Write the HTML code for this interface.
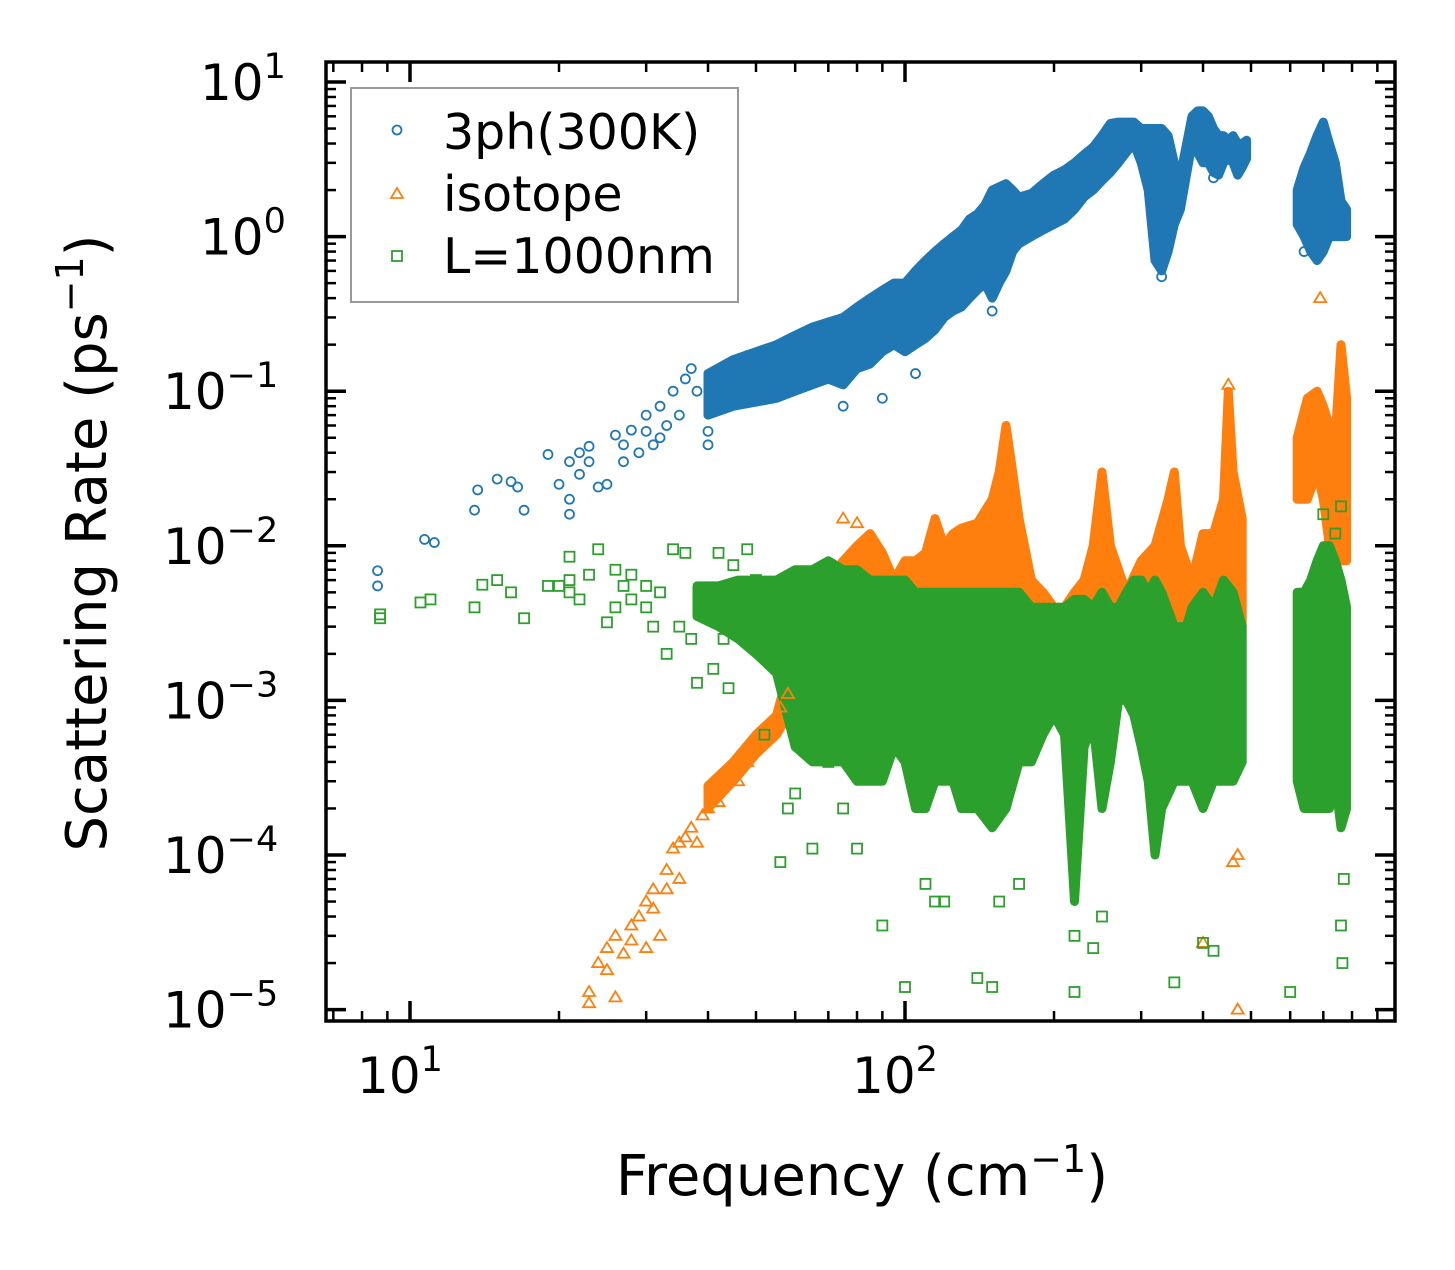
<!DOCTYPE html>
<html><head><meta charset="utf-8"><style>
html,body{margin:0;padding:0;background:#fff}
svg{display:block;font-family:"DejaVu Sans","Liberation Sans",sans-serif}
</style></head><body>
<svg id="chart" width="1455" height="1270" viewBox="0 0 1455 1270" xmlns="http://www.w3.org/2000/svg">
<g id="bands"></g>
<g id="pts"></g>
<g id="axes"></g>
<g>
<rect x="351" y="88" width="387" height="214" fill="#fff" fill-opacity="0.8" stroke="#999" stroke-width="2"/>
<circle cx="397" cy="130" r="4.5" fill="none" stroke="#1f77b4" stroke-width="1.8"/>
<text x="443" y="149" font-size="49">3ph(300K)</text>
<path d="M391,198 L403,198 L397,188 Z" fill="none" stroke="#ff7f0e" stroke-width="1.8"/>
<text x="443" y="211" font-size="49">isotope</text>
<rect x="392" y="251" width="10" height="10" fill="none" stroke="#2ca02c" stroke-width="1.8"/>
<text x="443" y="273" font-size="49">L=1000nm</text>
</g>
<text x="862" y="1195" font-size="56" text-anchor="middle">Frequency (cm<tspan dy="-23" font-size="38">−1</tspan><tspan dy="23">)</tspan></text>
<text transform="translate(106,543) rotate(-90)" font-size="56" text-anchor="middle">Scattering Rate (ps<tspan dy="-23" font-size="38">−1</tspan><tspan dy="23">)</tspan></text>
</svg>
<script>
const blueFreq=[8.6,8.6,10.7,11.2,13.5,13.7,15,16,16.5,17,19,20,21,21,21,22,22,23,23,24,25,26,27,27,28,29,30,30,31,32,32,33,34,35,36,37,38,40,40,41,42,44,45,48,75,90,105,150,330,420,640];
const blueRate=[0.0069,0.0055,0.011,0.0105,0.017,0.023,0.027,0.026,0.024,0.017,0.039,0.025,0.016,0.02,0.035,0.04,0.029,0.044,0.035,0.024,0.025,0.052,0.045,0.035,0.056,0.04,0.07,0.055,0.045,0.08,0.05,0.06,0.1,0.07,0.12,0.14,0.1,0.055,0.045,0.13,0.08,0.15,0.09,0.17,0.08,0.09,0.13,0.33,0.55,2.4,0.8];
const blueBandFreq=[40,45,50,55,60,65,70,75,80,85,90,95,100,105,110,115,120,125,130,135,140,145,150,155,160,165,170,180,190,200,210,220,230,240,250,260,270,280,290,300,310,320,330,340,350,360,380,390,400,410,420,430,440,450,460,470,480,490,620,640,660,680,700,720,740,760,780];
const blueBandLo=[0.07,0.08,0.085,0.09,0.1,0.11,0.12,0.11,0.14,0.15,0.18,0.2,0.18,0.2,0.22,0.25,0.3,0.33,0.35,0.4,0.45,0.5,0.4,0.5,0.6,0.8,0.9,1.0,1.1,1.2,1.3,1.5,1.8,2,2.3,2.6,3,3.5,4,3,2,0.7,0.6,0.8,1.2,1.5,4,3.5,3,3,2.6,2.5,3,3.2,3,2.5,2.8,3.2,1.2,1.0,0.8,0.7,0.8,1,1,1,1];
const blueBandHi=[0.13,0.16,0.18,0.2,0.23,0.26,0.28,0.3,0.35,0.4,0.45,0.5,0.5,0.6,0.7,0.8,0.9,1.0,1.1,1.3,1.4,1.6,2.0,2.1,2.2,2.0,1.8,1.9,2.2,2.5,2.7,3,3.4,3.8,4.5,5.4,5.5,5.5,5.5,5,5,5,5,4.5,3,2.5,6,6.5,6.5,6,5,4.5,4.5,4.2,4.5,4,4,4.2,2.0,2.8,3.5,4.5,5.5,4,3,1.7,1.5];
const orangeFreq=[23,23,24,25,25,26,26,27,28,28,29,30,30,31,31,32,33,33,34,35,35,36,37,38,39,40,41,42,44,45,46,48,50,52,54,56,58,75,80,690,450,470,460,400,470];
const orangeRate=[1.3e-5,1.1e-5,2e-5,2.5e-5,1.8e-5,1.2e-5,3e-5,2.3e-5,3.5e-5,2.8e-5,4e-5,5e-5,2.5e-5,6e-5,4.5e-5,3e-5,8e-5,6e-5,1.1e-4,1.2e-4,7e-5,1.3e-4,1.5e-4,1.2e-4,1.8e-4,2e-4,2.5e-4,2.2e-4,3e-4,3.5e-4,3e-4,4e-4,5e-4,6e-4,7e-4,9e-4,1.1e-3,0.015,0.014,0.4,0.11,1e-5,9e-5,2.7e-5,1e-4];
const orangeBandFreq=[40,45,50,55,58,62,66,70,75,80,85,90,95,100,105,110,115,120,125,130,140,150,155,160,165,170,180,190,200,210,220,230,240,250,260,280,300,320,340,350,360,380,400,420,440,450,460,480,620,650,680,700,720,740,760,780];
const orangeBandLo=[2e-4,3e-4,4.5e-4,6e-4,8e-4,1.2e-3,1.5e-3,2e-3,2e-3,2e-3,2e-3,2e-3,2e-3,2e-3,2e-3,2e-3,2.5e-3,3e-3,3e-3,3e-3,3e-3,3e-3,3e-3,3e-3,3e-3,3e-3,2e-3,2e-3,2e-3,2e-3,2e-3,2e-3,3e-3,3e-3,3e-3,3e-3,3e-3,3e-3,4e-3,4e-3,3e-3,3e-3,3e-3,3e-3,3e-3,3e-3,3e-3,3e-3,0.02,0.02,0.03,0.02,0.01,0.008,0.008,0.008];
const orangeBandHi=[2.8e-4,4e-4,6e-4,8e-4,1.5e-3,3e-3,5e-3,6e-3,8e-3,0.01,0.012,0.009,0.006,0.008,0.008,0.009,0.015,0.01,0.012,0.013,0.014,0.02,0.03,0.06,0.03,0.015,0.006,0.005,0.004,0.004,0.005,0.006,0.01,0.03,0.01,0.005,0.008,0.01,0.02,0.03,0.01,0.006,0.012,0.012,0.02,0.1,0.03,0.015,0.05,0.09,0.1,0.08,0.06,0.05,0.2,0.09];
const greenFreq=[8.7,8.7,10.5,11,13.5,14,15,16,17,19,20,21,21,21,22,23,24,25,26,26,27,28,28,30,30,31,32,33,34,35,36,37,38,40,41,42,43,44,45,46,47,48,50,52,55,56,58,60,65,70,75,80,90,100,110,115,120,140,150,155,170,220,220,240,250,350,400,420,600,760,765,770,760,700,740];
const greenRate=[0.0034,0.0036,0.0043,0.0045,0.004,0.0056,0.006,0.005,0.0034,0.0055,0.0055,0.0085,0.006,0.005,0.0045,0.0065,0.0095,0.0032,0.004,0.007,0.0055,0.0045,0.0065,0.0055,0.004,0.003,0.005,0.002,0.0095,0.003,0.009,0.0025,0.0013,0.0045,0.0016,0.009,0.0025,0.0012,0.0075,0.005,0.003,0.0095,0.006,0.0006,0.004,0.00009,0.0002,0.00025,0.00011,0.0004,0.0002,0.00011,0.000035,0.000014,0.000065,0.00005,0.00005,0.000016,0.000014,0.00005,0.000065,0.000013,0.00003,0.000025,0.00004,0.000015,0.000027,0.000024,0.000013,0.000035,0.00002,0.00007,0.018,0.016,0.012];
const greenBandFreq=[38,42,46,50,55,60,65,70,75,80,85,90,95,100,105,110,115,120,125,130,140,150,160,170,180,190,200,210,220,230,240,250,260,270,280,290,300,310,320,330,350,370,380,400,420,440,460,480,620,640,660,680,700,720,740,760,780];
const greenBandLo=[0.0035,0.003,0.0025,0.002,0.0015,0.0005,0.0004,0.0004,0.0004,0.0003,0.0003,0.0003,0.0005,0.0004,0.0002,0.0002,0.0003,0.0003,0.0003,0.0002,0.0002,0.00015,0.0002,0.0004,0.0004,0.0006,0.0008,0.0006,0.00005,0.0005,0.0007,0.0002,0.0004,0.001,0.001,0.0008,0.0005,0.0003,0.0001,0.0002,0.0003,0.0003,0.0003,0.0002,0.0003,0.0003,0.0003,0.0004,0.0003,0.0002,0.0002,0.0002,0.0002,0.0002,0.0003,0.00015,0.0002];
const greenBandHi=[0.0055,0.0055,0.006,0.006,0.006,0.007,0.007,0.008,0.007,0.007,0.006,0.006,0.006,0.006,0.005,0.005,0.005,0.005,0.005,0.005,0.005,0.005,0.005,0.005,0.004,0.004,0.004,0.004,0.0045,0.0045,0.004,0.005,0.004,0.004,0.005,0.006,0.006,0.005,0.006,0.005,0.003,0.003,0.004,0.005,0.004,0.006,0.005,0.003,0.005,0.005,0.006,0.008,0.01,0.01,0.008,0.006,0.004];
const xTickVals=[10,100];
const xTickExps=["1","2"];
const yTickVals=[1e1,1e0,1e-1,1e-2,1e-3,1e-4,1e-5];
const yTickExps=["1","0","−1","−2","−3","−4","−5"];

const NS="http://www.w3.org/2000/svg";
const PL=326,PR=1395,PT=62,PB=1021;
function xs(f){return 410+495*(Math.log10(f)-1);}
function ys(r){return 82+154.6*(1-Math.log10(r));}
function mk(tag,attrs,parent){const e=document.createElementNS(NS,tag);for(const k in attrs)e.setAttribute(k,attrs[k]);parent.appendChild(e);return e;}
const bands=document.getElementById('bands'),pts=document.getElementById('pts'),axes=document.getElementById('axes');

function drawBand(freq,lo,hi,color,name){
  let seg=[];
  const flush=()=>{
    if(!seg.length)return;
    const top=seg.map(i=>`${xs(freq[i]).toFixed(1)},${ys(hi[i]).toFixed(1)}`);
    const bot=seg.slice().reverse().map(i=>`${xs(freq[i]).toFixed(1)},${ys(lo[i]).toFixed(1)}`);
    const p=mk('polygon',{points:top.concat(bot).join(' '),fill:color,stroke:color,'stroke-width':9,'stroke-linejoin':'round'},bands);
    
    
    seg=[];
  };
  for(let i=0;i<freq.length;i++){
    if(seg.length&&freq[i]/freq[seg[seg.length-1]]>1.15)flush();
    seg.push(i);
  }
  flush();
}
function drawPts(freq,rate,color,shape,name){
  for(let i=0;i<freq.length;i++){
    const x=xs(freq[i]),y=ys(rate[i]);let e;
    if(shape==='c')e=mk('circle',{cx:x,cy:y,r:4.5,fill:'none',stroke:color,'stroke-width':1.8},pts);
    else if(shape==='t')e=mk('path',{d:`M${x-6},${y+4} L${x+6},${y+4} L${x},${y-6} Z`,fill:'none',stroke:color,'stroke-width':1.8},pts);
    else e=mk('rect',{x:x-5,y:y-5,width:10,height:10,fill:'none',stroke:color,'stroke-width':1.8},pts);
    
    
  }
}
drawBand(blueBandFreq,blueBandLo,blueBandHi,'#1f77b4','3ph-band');
drawPts(blueFreq,blueRate,'#1f77b4','c','3ph-point');
drawBand(orangeBandFreq,orangeBandLo,orangeBandHi,'#ff7f0e','isotope-band');
drawPts(orangeFreq,orangeRate,'#ff7f0e','t','isotope-point');
drawBand(greenBandFreq,greenBandLo,greenBandHi,'#2ca02c','boundary-band');
drawPts(greenFreq,greenRate,'#2ca02c','s','boundary-point');

const fr=mk('rect',{x:PL,y:PT,width:PR-PL,height:PB-PT,fill:'none',stroke:'#000','stroke-width':3.5},axes);


for(let d=0;d<=2;d++){for(let m=1;m<=9;m++){const v=m*Math.pow(10,d);const x=xs(v);if(x<PL||x>PR)continue;const L=m===1?20:10;
  const t1=mk('line',{x1:x,x2:x,y1:PB,y2:PB-L,stroke:'#000','stroke-width':m===1?3.5:2.5},axes);
  
  
  const t2=mk('line',{x1:x,x2:x,y1:PT,y2:PT+L,stroke:'#000','stroke-width':m===1?3.5:2.5},axes);
  
  }}
xTickVals.forEach((v,i)=>{const t=mk('text',{x:xs(v)-10,y:1093,'font-size':50,'text-anchor':'middle'},axes);
  
  
  t.innerHTML=`10<tspan dy="-22" font-size="35">${xTickExps[i]}</tspan>`;});
for(let d=-5;d<=1;d++){for(let m=1;m<=9;m++){const v=m*Math.pow(10,d);const y=ys(v);if(y<PT||y>PB)continue;const L=m===1?20:10;
  const t1=mk('line',{x1:PL,x2:PL+L,y1:y,y2:y,stroke:'#000','stroke-width':m===1?3.5:2.5},axes);
  
  
  const t2=mk('line',{x1:PR,x2:PR-L,y1:y,y2:y,stroke:'#000','stroke-width':m===1?3.5:2.5},axes);
  
  }}
yTickVals.forEach((v,i)=>{const t=mk('text',{x:yTickExps[i].length>1?163:200,y:ys(v)+18,'font-size':50},axes);
  
  
  t.innerHTML=`10<tspan dy="-22" font-size="35">${yTickExps[i]}</tspan>`;});
</script>
</body></html>
